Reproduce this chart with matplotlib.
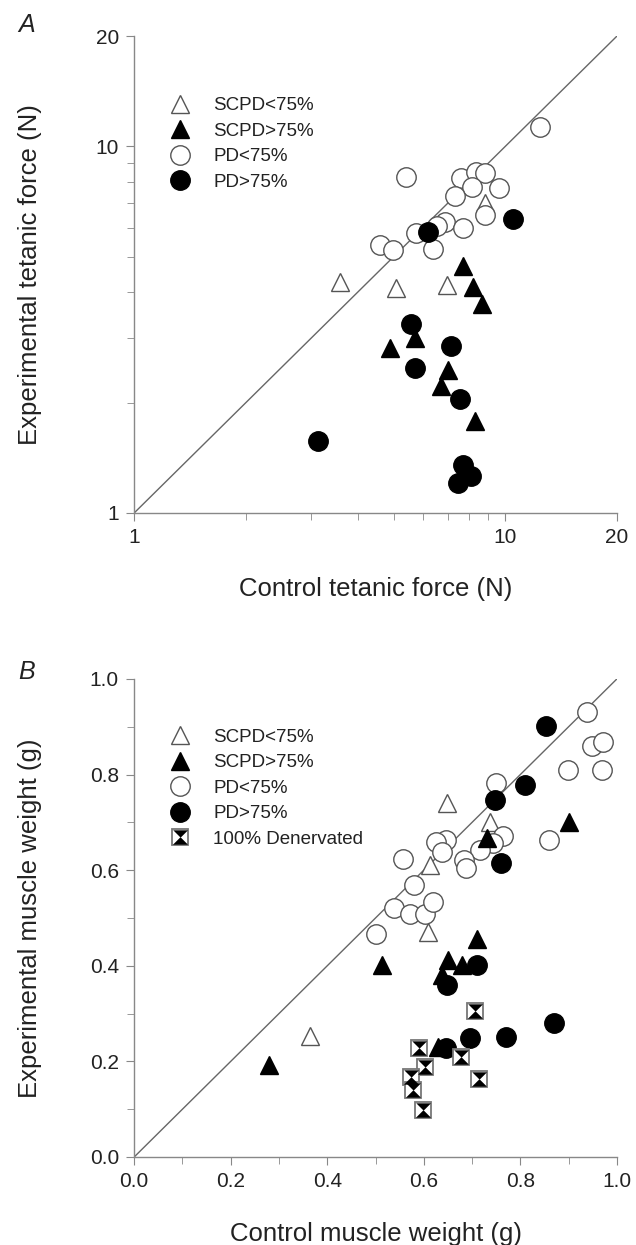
import numpy as np
import matplotlib
matplotlib.use("Agg")
import matplotlib.pyplot as plt
from matplotlib.path import Path
from matplotlib.ticker import FixedLocator, NullFormatter, FormatStrFormatter

plt.rcParams['font.family'] = ['Liberation Sans', 'DejaVu Sans']

# ---- Panel A: tetanic force (N), log-log ----
a_scpd_lo_x = [3.59, 5.07, 6.97, 8.83]
a_scpd_lo_y = [4.26, 4.11, 4.20, 7.03]
a_scpd_hi_x = [7.71, 8.18, 8.65, 4.88, 5.71, 7.00, 6.70, 8.28]
a_scpd_hi_y = [4.71, 4.14, 3.72, 2.82, 3.00, 2.45, 2.22, 1.78]
a_pd_lo_x = [12.4, 5.40, 7.62, 8.32, 8.83, 8.15, 9.62, 7.33, 8.81, 6.88,
             6.53, 7.71, 5.75, 4.61, 4.98, 6.40]
a_pd_lo_y = [11.3, 8.25, 8.20, 8.49, 8.46, 7.74, 7.71, 7.31, 6.52, 6.21,
             6.06, 5.99, 5.80, 5.40, 5.21, 5.25]
a_pd_hi_x = [6.18, 10.47, 5.58, 7.14, 5.71, 7.56, 3.12, 7.71, 8.07, 7.48]
a_pd_hi_y = [5.83, 6.34, 3.28, 2.86, 2.48, 2.04, 1.57, 1.35, 1.26, 1.21]

# ---- Panel B: muscle weight (g) ----
b_scpd_lo_x = [0.648, 0.737, 0.612, 0.608, 0.364]
b_scpd_lo_y = [0.740, 0.701, 0.610, 0.471, 0.253]
b_scpd_hi_x = [0.731, 0.900, 0.279, 0.514, 0.710, 0.650, 0.680, 0.637, 0.629]
b_scpd_hi_y = [0.667, 0.701, 0.192, 0.402, 0.455, 0.413, 0.402, 0.381, 0.231]
b_pd_lo_x = [0.939, 0.949, 0.972, 0.899, 0.970, 0.859, 0.750, 0.763, 0.744,
             0.717, 0.684, 0.687, 0.646, 0.625, 0.637, 0.556, 0.580, 0.539,
             0.571, 0.602, 0.620, 0.501]
b_pd_lo_y = [0.930, 0.859, 0.869, 0.810, 0.810, 0.663, 0.782, 0.671, 0.657,
             0.642, 0.621, 0.604, 0.662, 0.659, 0.638, 0.624, 0.569, 0.520,
             0.509, 0.509, 0.534, 0.466]
b_pd_hi_x = [0.853, 0.810, 0.748, 0.759, 0.710, 0.648, 0.646, 0.695, 0.771, 0.870]
b_pd_hi_y = [0.902, 0.778, 0.747, 0.615, 0.401, 0.360, 0.227, 0.248, 0.252, 0.281]
b_den_x = [0.707, 0.590, 0.603, 0.677, 0.714, 0.573, 0.578, 0.599]
b_den_y = [0.306, 0.227, 0.189, 0.210, 0.164, 0.168, 0.140, 0.099]

labels = ['SCPD<75%', 'SCPD>75%', 'PD<75%', 'PD>75%', '100% Denervated']

edge = '#555555'
axis_col = '#888888'
text_col = '#222222'
hourglass = Path([(-1, 1), (1, 1), (0, 0), (-1, -1), (1, -1), (0, 0), (-1, 1)],
                 [Path.MOVETO, Path.LINETO, Path.LINETO, Path.MOVETO,
                  Path.LINETO, Path.LINETO, Path.CLOSEPOLY])

fig = plt.figure(figsize=(6.36, 12.45), dpi=100)
axA = fig.add_axes([0.211, 0.588, 0.759, 0.383])
axB = fig.add_axes([0.211, 0.0707, 0.759, 0.384])


def style(ax):
    for s in ['top', 'right']:
        ax.spines[s].set_visible(False)
    for s in ['left', 'bottom']:
        ax.spines[s].set_color(axis_col)
        ax.spines[s].set_linewidth(1.0)
    ax.tick_params(which='both', direction='out', color=axis_col, labelcolor=text_col,
                   labelsize=15)
    ax.tick_params(which='major', length=6, pad=5)
    ax.tick_params(which='minor', length=5)


def series(ax, xs, ys):
    h = []
    h.append(ax.plot(xs[0], ys[0], '^', ms=12.5, mfc='white', mec=edge, mew=1.0,
                     ls='none', zorder=3)[0])
    h.append(ax.plot(xs[1], ys[1], '^', ms=12.5, mfc='black', mec='black', mew=1.0,
                     ls='none', zorder=4)[0])
    h.append(ax.plot(xs[2], ys[2], 'o', ms=14, mfc='white', mec=edge, mew=1.0,
                     ls='none', zorder=3)[0])
    h.append(ax.plot(xs[3], ys[3], 'o', ms=14, mfc='black', mec='black', mew=1.0,
                     ls='none', zorder=5)[0])
    return h


# Panel A
style(axA)
axA.set_xscale('log')
axA.set_yscale('log')
axA.set_xlim(1, 20)
axA.set_ylim(1, 20)
axA.plot([1, 20], [1, 20], color='#666666', lw=1.0, zorder=2)
hA = series(axA, [a_scpd_lo_x, a_scpd_hi_x, a_pd_lo_x, a_pd_hi_x],
            [a_scpd_lo_y, a_scpd_hi_y, a_pd_lo_y, a_pd_hi_y])
for axis in [axA.xaxis, axA.yaxis]:
    axis.set_major_locator(FixedLocator([1, 10, 20]))
    axis.set_major_formatter(FormatStrFormatter('%d'))
    axis.set_minor_locator(FixedLocator([2, 3, 4, 5, 6, 7, 8, 9]))
    axis.set_minor_formatter(NullFormatter())
axA.set_xlabel('Control tetanic force (N)', fontsize=18.5, color=text_col)
axA.set_ylabel('Experimental tetanic force (N)', fontsize=18.5, color=text_col)
axA.xaxis.set_label_coords(0.5, -0.135)
axA.yaxis.set_label_coords(-0.192, 0.5)
axA.legend(hA, labels[:4], loc='upper left', bbox_to_anchor=(0.057, 0.888), frameon=False,
           fontsize=13.5, labelcolor=text_col, handlelength=1.2, handletextpad=1.15,
           labelspacing=0.45, borderaxespad=0)
axA.text(-0.24, 1.023, 'A', transform=axA.transAxes, fontsize=18, style='italic',
         color=text_col, va='center', ha='left')

# Panel B
style(axB)
axB.set_xlim(0, 1)
axB.set_ylim(0, 1)
axB.plot([0, 1], [0, 1], color='#666666', lw=1.0, zorder=2)
hB = series(axB, [b_scpd_lo_x, b_scpd_hi_x, b_pd_lo_x, b_pd_hi_x],
            [b_scpd_lo_y, b_scpd_hi_y, b_pd_lo_y, b_pd_hi_y])
sq = axB.plot(b_den_x, b_den_y, 's', ms=11.5, mfc='white', mec='#777777', mew=1.3,
              ls='none', zorder=6)[0]
hg = axB.plot(b_den_x, b_den_y, marker=hourglass, ms=10, mfc='black', mec='black',
              mew=0.3, ls='none', zorder=7)[0]
hB.append((sq, hg))
ticks = np.round(np.arange(0, 1.01, 0.2), 1)
for axis in [axB.xaxis, axB.yaxis]:
    axis.set_major_locator(FixedLocator(ticks))
    axis.set_major_formatter(FormatStrFormatter('%.1f'))
    axis.set_minor_locator(FixedLocator(np.arange(0.1, 1.0, 0.2)))
axB.set_xlabel('Control muscle weight (g)', fontsize=18.5, color=text_col)
axB.set_ylabel('Experimental muscle weight (g)', fontsize=18.5, color=text_col)
axB.xaxis.set_label_coords(0.5, -0.135)
axB.yaxis.set_label_coords(-0.192, 0.5)
axB.legend(hB, labels, loc='upper left', bbox_to_anchor=(0.057, 0.912), frameon=False,
           fontsize=13.5, labelcolor=text_col, handlelength=1.2, handletextpad=1.15,
           labelspacing=0.45, borderaxespad=0)
axB.text(-0.24, 1.015, 'B', transform=axB.transAxes, fontsize=18, style='italic',
         color=text_col, va='center', ha='left')

fig.savefig('out.png', dpi=100)
